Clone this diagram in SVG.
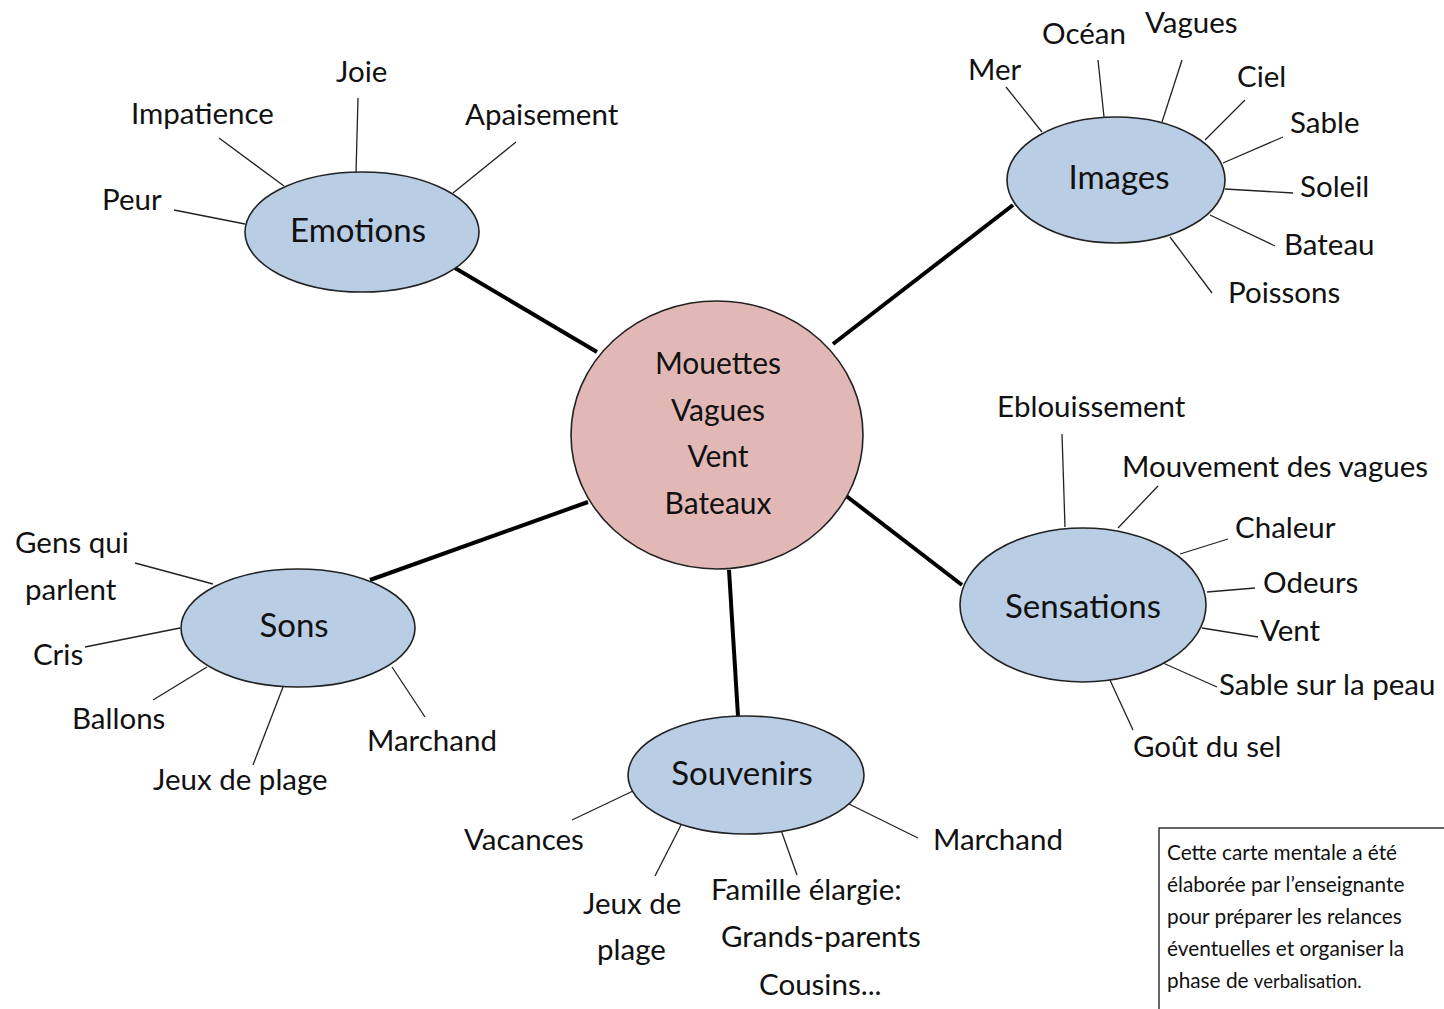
<svg xmlns="http://www.w3.org/2000/svg" width="1444" height="1009" viewBox="0 0 1444 1009">
<style>
text{font-family:Lato,"Liberation Sans",sans-serif;fill:#111;}
.leaf{font-size:29.5px;}
.cat{font-size:33px;text-anchor:middle;}
.ctr{font-size:30px;text-anchor:middle;}
.note{font-size:20.8px;}
.sub{stroke:#222;stroke-width:1.3;fill:none;}
.main{stroke:#000;stroke-width:4;fill:none;}
.blue{fill:#B9CDE5;stroke:#222;stroke-width:1.6;}
.pink{fill:#E2B8B7;stroke:#222;stroke-width:1.6;}
</style>
<rect width="1444" height="1009" fill="#fff"/>
<g id="connectors">
<line class="main" x1="455" y1="268" x2="597" y2="352"/>
<line class="main" x1="1013" y1="205" x2="833" y2="344"/>
<line class="main" x1="370" y1="580" x2="588" y2="502"/>
<line class="main" x1="729" y1="570" x2="738" y2="716"/>
<line class="main" x1="845" y1="495" x2="962" y2="585"/>
</g>
<g id="center">
<ellipse class="pink" cx="717" cy="435" rx="146" ry="134"/>
<text class="ctr" x="718" y="374">Mouettes</text>
<text class="ctr" x="718" y="421">Vagues</text>
<text class="ctr" x="718" y="467">Vent</text>
<text class="ctr" x="718" y="514">Bateaux</text>
</g>
<g id="emotions">
<line class="sub" x1="174" y1="210" x2="245" y2="224"/>
<line class="sub" x1="219" y1="138" x2="284" y2="186"/>
<line class="sub" x1="358" y1="98" x2="356" y2="173"/>
<line class="sub" x1="516" y1="142" x2="453" y2="193"/>
<ellipse class="blue" cx="362" cy="232" rx="117" ry="60"/>
<text class="cat" x="358" y="242">Emotions</text>
<text class="leaf" x="102" y="210">Peur</text>
<text class="leaf" x="131" y="124">Impatience</text>
<text class="leaf" x="336" y="82">Joie</text>
<text class="leaf" x="465" y="125">Apaisement</text>
</g>
<g id="images">
<line class="sub" x1="1006" y1="87" x2="1042" y2="132"/>
<line class="sub" x1="1098" y1="60" x2="1104" y2="117"/>
<line class="sub" x1="1182" y1="60" x2="1162" y2="122"/>
<line class="sub" x1="1245" y1="100" x2="1205" y2="140"/>
<line class="sub" x1="1283" y1="137" x2="1223" y2="163"/>
<line class="sub" x1="1225" y1="189" x2="1293" y2="193"/>
<line class="sub" x1="1210" y1="215" x2="1275" y2="246"/>
<line class="sub" x1="1170" y1="237" x2="1212" y2="293"/>
<ellipse class="blue" cx="1116" cy="180" rx="109" ry="63"/>
<text class="cat" x="1119" y="189">Images</text>
<text class="leaf" x="968" y="80">Mer</text>
<text class="leaf" x="1042" y="44">Océan</text>
<text class="leaf" x="1145" y="33">Vagues</text>
<text class="leaf" x="1237" y="87">Ciel</text>
<text class="leaf" x="1290" y="133">Sable</text>
<text class="leaf" x="1300" y="197">Soleil</text>
<text class="leaf" x="1284" y="255">Bateau</text>
<text class="leaf" x="1228" y="303">Poissons</text>
</g>
<g id="sensations">
<line class="sub" x1="1062" y1="434" x2="1065" y2="527"/>
<line class="sub" x1="1158" y1="486" x2="1118" y2="528"/>
<line class="sub" x1="1228" y1="539" x2="1180" y2="554"/>
<line class="sub" x1="1255" y1="588" x2="1207" y2="592"/>
<line class="sub" x1="1202" y1="628" x2="1258" y2="637"/>
<line class="sub" x1="1163" y1="663" x2="1217" y2="687"/>
<line class="sub" x1="1109" y1="678" x2="1133" y2="730"/>
<ellipse class="blue" cx="1083" cy="605" rx="123" ry="77"/>
<text class="cat" x="1083" y="618">Sensations</text>
<text class="leaf" x="997" y="417">Eblouissement</text>
<text class="leaf" x="1122" y="477">Mouvement des vagues</text>
<text class="leaf" x="1235" y="538">Chaleur</text>
<text class="leaf" x="1263" y="593">Odeurs</text>
<text class="leaf" x="1260" y="641">Vent</text>
<text class="leaf" x="1219" y="695">Sable sur la peau</text>
<text class="leaf" x="1133" y="757">Goût du sel</text>
</g>
<g id="sons">
<line class="sub" x1="135" y1="563" x2="213" y2="584"/>
<line class="sub" x1="85" y1="647" x2="180" y2="628"/>
<line class="sub" x1="153" y1="700" x2="207" y2="667"/>
<line class="sub" x1="253" y1="765" x2="283" y2="687"/>
<line class="sub" x1="425" y1="717" x2="392" y2="667"/>
<ellipse class="blue" cx="298" cy="628" rx="117" ry="59"/>
<text class="cat" x="294" y="637">Sons</text>
<text class="leaf" x="15" y="553">Gens qui</text>
<text class="leaf" x="25" y="600">parlent</text>
<text class="leaf" x="33" y="665">Cris</text>
<text class="leaf" x="72" y="729">Ballons</text>
<text class="leaf" x="153" y="790">Jeux de plage</text>
<text class="leaf" x="367" y="751">Marchand</text>
</g>
<g id="souvenirs">
<line class="sub" x1="572" y1="820" x2="633" y2="791"/>
<line class="sub" x1="655" y1="876" x2="681" y2="825"/>
<line class="sub" x1="797" y1="875" x2="781" y2="830"/>
<line class="sub" x1="918" y1="838" x2="849" y2="804"/>
<ellipse class="blue" cx="746" cy="775" rx="118" ry="59"/>
<text class="cat" x="742" y="785">Souvenirs</text>
<text class="leaf" x="464" y="850">Vacances</text>
<text class="leaf" x="583" y="914">Jeux de</text>
<text class="leaf" x="597" y="960">plage</text>
<text class="leaf" x="711" y="900">Famille élargie:</text>
<text class="leaf" x="721" y="947">Grands-parents</text>
<text class="leaf" x="759" y="995">Cousins...</text>
<text class="leaf" x="933" y="850">Marchand</text>
</g>
<g id="note">
<rect x="1159" y="828" width="300" height="200" fill="#fff" stroke="#333" stroke-width="1.5"/>
<text class="note" x="1167" y="860">Cette carte mentale a été</text>
<text class="note" x="1167" y="892">élaborée par l’enseignante</text>
<text class="note" x="1167" y="924">pour préparer les relances</text>
<text class="note" x="1167" y="956">éventuelles et organiser la</text>
<text class="note" x="1167" y="988">phase de <tspan font-size="18.5">verbalisation.</tspan></text>
</g>
</svg>
